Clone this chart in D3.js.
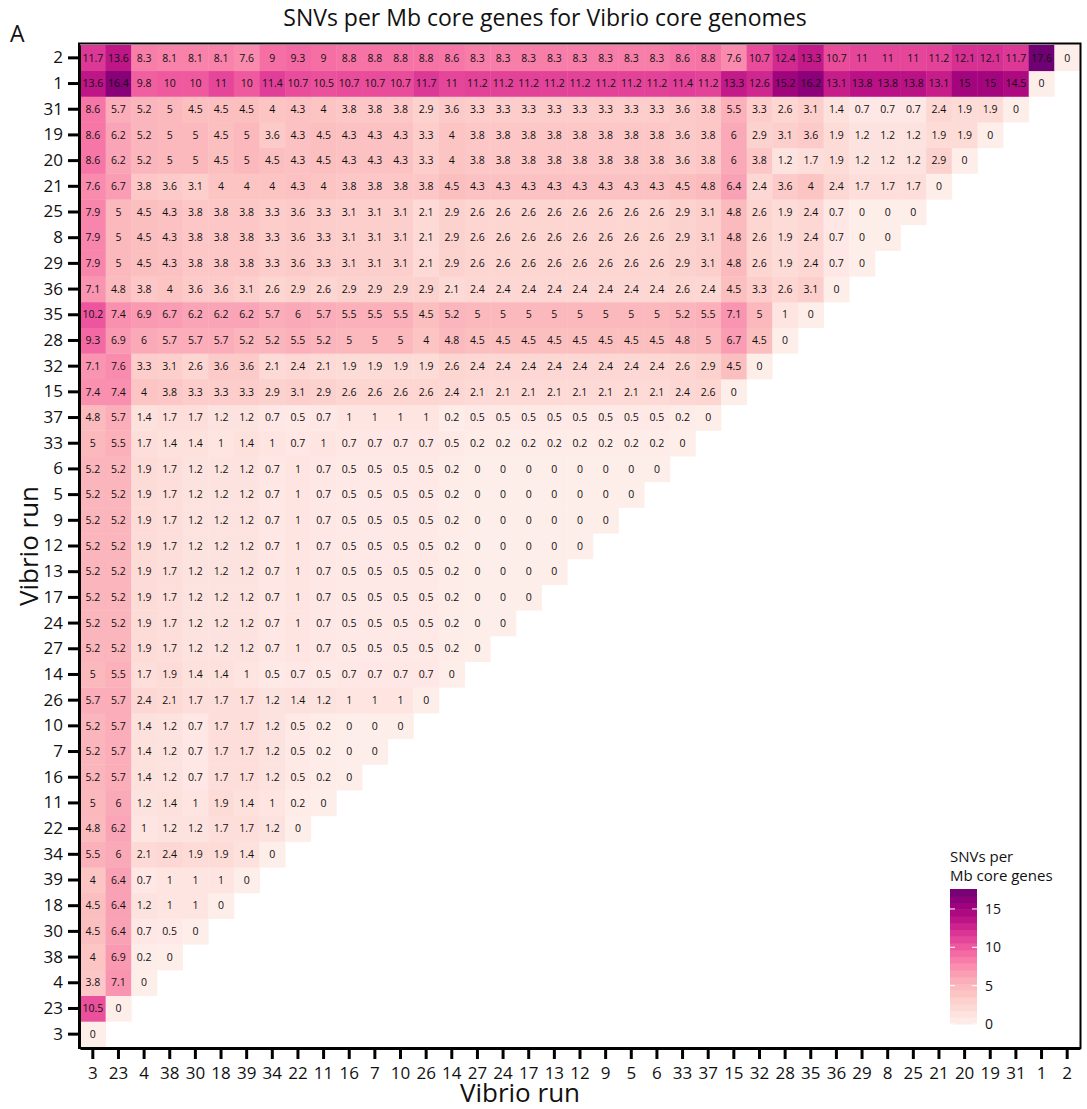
<!DOCTYPE html>
<html>
<head>
<meta charset="utf-8">
<script src="https://cdn.jsdelivr.net/npm/d3@7"></script>
<style>
  body { margin: 0; background: #fff; }
  svg { display: block; }
  text { font-family: "Open Sans", sans-serif; fill: #111; }
</style>
</head>
<body>
<div id="chart"></div>
<script>
// run order along the x axis (bottom row of the y axis is the first one)
const runs = ["3","23","4","38","30","18","39","34","22","11","16","7","10","26","14","27","24","17","13","12","9","5","6","33","37","15","32","28","35","36","29","8","25","21","20","19","31","1","2"];

// snv[k] = row for runs[k], values against runs[0..k]
const snv = [
  [0],
  [10.5, 0],
  [3.8, 7.1, 0],
  [4, 6.9, 0.2, 0],
  [4.5, 6.4, 0.7, 0.5, 0],
  [4.5, 6.4, 1.2, 1, 1, 0],
  [4, 6.4, 0.7, 1, 1, 1, 0],
  [5.5, 6, 2.1, 2.4, 1.9, 1.9, 1.4, 0],
  [4.8, 6.2, 1, 1.2, 1.2, 1.7, 1.7, 1.2, 0],
  [5, 6, 1.2, 1.4, 1, 1.9, 1.4, 1, 0.2, 0],
  [5.2, 5.7, 1.4, 1.2, 0.7, 1.7, 1.7, 1.2, 0.5, 0.2, 0],
  [5.2, 5.7, 1.4, 1.2, 0.7, 1.7, 1.7, 1.2, 0.5, 0.2, 0, 0],
  [5.2, 5.7, 1.4, 1.2, 0.7, 1.7, 1.7, 1.2, 0.5, 0.2, 0, 0, 0],
  [5.7, 5.7, 2.4, 2.1, 1.7, 1.7, 1.7, 1.2, 1.4, 1.2, 1, 1, 1, 0],
  [5, 5.5, 1.7, 1.9, 1.4, 1.4, 1, 0.5, 0.7, 0.5, 0.7, 0.7, 0.7, 0.7, 0],
  [5.2, 5.2, 1.9, 1.7, 1.2, 1.2, 1.2, 0.7, 1, 0.7, 0.5, 0.5, 0.5, 0.5, 0.2, 0],
  [5.2, 5.2, 1.9, 1.7, 1.2, 1.2, 1.2, 0.7, 1, 0.7, 0.5, 0.5, 0.5, 0.5, 0.2, 0, 0],
  [5.2, 5.2, 1.9, 1.7, 1.2, 1.2, 1.2, 0.7, 1, 0.7, 0.5, 0.5, 0.5, 0.5, 0.2, 0, 0, 0],
  [5.2, 5.2, 1.9, 1.7, 1.2, 1.2, 1.2, 0.7, 1, 0.7, 0.5, 0.5, 0.5, 0.5, 0.2, 0, 0, 0, 0],
  [5.2, 5.2, 1.9, 1.7, 1.2, 1.2, 1.2, 0.7, 1, 0.7, 0.5, 0.5, 0.5, 0.5, 0.2, 0, 0, 0, 0, 0],
  [5.2, 5.2, 1.9, 1.7, 1.2, 1.2, 1.2, 0.7, 1, 0.7, 0.5, 0.5, 0.5, 0.5, 0.2, 0, 0, 0, 0, 0, 0],
  [5.2, 5.2, 1.9, 1.7, 1.2, 1.2, 1.2, 0.7, 1, 0.7, 0.5, 0.5, 0.5, 0.5, 0.2, 0, 0, 0, 0, 0, 0, 0],
  [5.2, 5.2, 1.9, 1.7, 1.2, 1.2, 1.2, 0.7, 1, 0.7, 0.5, 0.5, 0.5, 0.5, 0.2, 0, 0, 0, 0, 0, 0, 0, 0],
  [5, 5.5, 1.7, 1.4, 1.4, 1, 1.4, 1, 0.7, 1, 0.7, 0.7, 0.7, 0.7, 0.5, 0.2, 0.2, 0.2, 0.2, 0.2, 0.2, 0.2, 0.2, 0],
  [4.8, 5.7, 1.4, 1.7, 1.7, 1.2, 1.2, 0.7, 0.5, 0.7, 1, 1, 1, 1, 0.2, 0.5, 0.5, 0.5, 0.5, 0.5, 0.5, 0.5, 0.5, 0.2, 0],
  [7.4, 7.4, 4, 3.8, 3.3, 3.3, 3.3, 2.9, 3.1, 2.9, 2.6, 2.6, 2.6, 2.6, 2.4, 2.1, 2.1, 2.1, 2.1, 2.1, 2.1, 2.1, 2.1, 2.4, 2.6, 0],
  [7.1, 7.6, 3.3, 3.1, 2.6, 3.6, 3.6, 2.1, 2.4, 2.1, 1.9, 1.9, 1.9, 1.9, 2.6, 2.4, 2.4, 2.4, 2.4, 2.4, 2.4, 2.4, 2.4, 2.6, 2.9, 4.5, 0],
  [9.3, 6.9, 6, 5.7, 5.7, 5.7, 5.2, 5.2, 5.5, 5.2, 5, 5, 5, 4, 4.8, 4.5, 4.5, 4.5, 4.5, 4.5, 4.5, 4.5, 4.5, 4.8, 5, 6.7, 4.5, 0],
  [10.2, 7.4, 6.9, 6.7, 6.2, 6.2, 6.2, 5.7, 6, 5.7, 5.5, 5.5, 5.5, 4.5, 5.2, 5, 5, 5, 5, 5, 5, 5, 5, 5.2, 5.5, 7.1, 5, 1, 0],
  [7.1, 4.8, 3.8, 4, 3.6, 3.6, 3.1, 2.6, 2.9, 2.6, 2.9, 2.9, 2.9, 2.9, 2.1, 2.4, 2.4, 2.4, 2.4, 2.4, 2.4, 2.4, 2.4, 2.6, 2.4, 4.5, 3.3, 2.6, 3.1, 0],
  [7.9, 5, 4.5, 4.3, 3.8, 3.8, 3.8, 3.3, 3.6, 3.3, 3.1, 3.1, 3.1, 2.1, 2.9, 2.6, 2.6, 2.6, 2.6, 2.6, 2.6, 2.6, 2.6, 2.9, 3.1, 4.8, 2.6, 1.9, 2.4, 0.7, 0],
  [7.9, 5, 4.5, 4.3, 3.8, 3.8, 3.8, 3.3, 3.6, 3.3, 3.1, 3.1, 3.1, 2.1, 2.9, 2.6, 2.6, 2.6, 2.6, 2.6, 2.6, 2.6, 2.6, 2.9, 3.1, 4.8, 2.6, 1.9, 2.4, 0.7, 0, 0],
  [7.9, 5, 4.5, 4.3, 3.8, 3.8, 3.8, 3.3, 3.6, 3.3, 3.1, 3.1, 3.1, 2.1, 2.9, 2.6, 2.6, 2.6, 2.6, 2.6, 2.6, 2.6, 2.6, 2.9, 3.1, 4.8, 2.6, 1.9, 2.4, 0.7, 0, 0, 0],
  [7.6, 6.7, 3.8, 3.6, 3.1, 4, 4, 4, 4.3, 4, 3.8, 3.8, 3.8, 3.8, 4.5, 4.3, 4.3, 4.3, 4.3, 4.3, 4.3, 4.3, 4.3, 4.5, 4.8, 6.4, 2.4, 3.6, 4, 2.4, 1.7, 1.7, 1.7, 0],
  [8.6, 6.2, 5.2, 5, 5, 4.5, 5, 4.5, 4.3, 4.5, 4.3, 4.3, 4.3, 3.3, 4, 3.8, 3.8, 3.8, 3.8, 3.8, 3.8, 3.8, 3.8, 3.6, 3.8, 6, 3.8, 1.2, 1.7, 1.9, 1.2, 1.2, 1.2, 2.9, 0],
  [8.6, 6.2, 5.2, 5, 5, 4.5, 5, 3.6, 4.3, 4.5, 4.3, 4.3, 4.3, 3.3, 4, 3.8, 3.8, 3.8, 3.8, 3.8, 3.8, 3.8, 3.8, 3.6, 3.8, 6, 2.9, 3.1, 3.6, 1.9, 1.2, 1.2, 1.2, 1.9, 1.9, 0],
  [8.6, 5.7, 5.2, 5, 4.5, 4.5, 4.5, 4, 4.3, 4, 3.8, 3.8, 3.8, 2.9, 3.6, 3.3, 3.3, 3.3, 3.3, 3.3, 3.3, 3.3, 3.3, 3.6, 3.8, 5.5, 3.3, 2.6, 3.1, 1.4, 0.7, 0.7, 0.7, 2.4, 1.9, 1.9, 0],
  [13.6, 16.4, 9.8, 10, 10, 11, 10, 11.4, 10.7, 10.5, 10.7, 10.7, 10.7, 11.7, 11, 11.2, 11.2, 11.2, 11.2, 11.2, 11.2, 11.2, 11.2, 11.4, 11.2, 13.3, 12.6, 15.2, 16.2, 13.1, 13.8, 13.8, 13.8, 13.1, 15, 15, 14.5, 0],
  [11.7, 13.6, 8.3, 8.1, 8.1, 8.1, 7.6, 9, 9.3, 9, 8.8, 8.8, 8.8, 8.8, 8.6, 8.3, 8.3, 8.3, 8.3, 8.3, 8.3, 8.3, 8.3, 8.6, 8.8, 7.6, 10.7, 12.4, 13.3, 10.7, 11, 11, 11, 11.2, 12.1, 12.1, 11.7, 17.6, 0]
];

const legendTicks = [0, 5, 10, 15];
const maxValue = 17.6;

const width = 1087, height = 1109;
const plotLeft = 80, plotRight = 1080, plotTop = 45, plotBottom = 1047;

const svg = d3.select("#chart").append("svg")
    .attr("width", width)
    .attr("height", height);

const x = d3.scaleBand().domain(runs).range([plotLeft, plotRight]);
const y = d3.scaleBand().domain(runs).range([plotBottom, plotTop]);

// RdPu, trimmed a little at both ends
const color = d3.scaleSequential(d3.interpolateRdPu).domain([-1.04, 19.67]);

const cells = [];
snv.forEach((row, k) => {
    row.forEach((v, j) => cells.push({ row: runs[k], col: runs[j], v: v }));
});

const cell = svg.append("g").selectAll("g")
    .data(cells)
    .enter()
    .append("g");

cell.append("rect")
    .attr("x", d => x(d.col))
    .attr("y", d => y(d.row))
    .attr("width", x.bandwidth() + 0.4)
    .attr("height", y.bandwidth() + 0.4)
    .attr("fill", d => color(d.v));

cell.append("text")
    .attr("x", d => x(d.col) + x.bandwidth() / 2)
    .attr("y", d => y(d.row) + y.bandwidth() / 2)
    .attr("dy", "0.35em")
    .attr("text-anchor", "middle")
    .style("font-size", "10.5px")
    .text(d => d.v);

// panel border
svg.append("rect")
    .attr("x", plotLeft - 1)
    .attr("y", plotTop - 1.5)
    .attr("width", plotRight - plotLeft + 1.5)
    .attr("height", plotBottom - plotTop + 2.5)
    .attr("fill", "none")
    .attr("stroke", "#000")
    .attr("stroke-width", 2);

// axes
const xAxis = svg.append("g")
    .attr("transform", `translate(0,${plotBottom + 1})`)
    .call(d3.axisBottom(x).tickSize(11).tickSizeOuter(0).tickPadding(8));

const yAxis = svg.append("g")
    .attr("transform", `translate(${plotLeft - 1},0)`)
    .call(d3.axisLeft(y).tickSize(11).tickSizeOuter(0).tickPadding(5));

[xAxis, yAxis].forEach(ax => {
    ax.select(".domain").attr("stroke", "#000").attr("stroke-width", 3);
    ax.selectAll(".tick line").attr("stroke", "#000").attr("stroke-width", 3);
    ax.selectAll(".tick text").style("font-size", "17px").attr("fill", "#111");
});

// titles
svg.append("text")
    .attr("x", 545)
    .attr("y", 26)
    .attr("text-anchor", "middle")
    .style("font-size", "23px")
    .text("SNVs per Mb core genes for Vibrio core genomes");

svg.append("text")
    .attr("x", 10)
    .attr("y", 42)
    .style("font-size", "23px")
    .text("A");

svg.append("text")
    .attr("x", 520)
    .attr("y", 1102)
    .attr("text-anchor", "middle")
    .style("font-size", "26px")
    .text("Vibrio run");

svg.append("text")
    .attr("transform", `translate(38,${(plotTop + plotBottom) / 2}) rotate(-90)`)
    .attr("text-anchor", "middle")
    .style("font-size", "26px")
    .text("Vibrio run");

// legend
const legend = svg.append("g");
const barX = 950, barW = 27;
const yL = d3.scaleLinear().domain([0, maxValue]).range([1024, 889]);

legend.append("text")
    .attr("x", barX).attr("y", 862)
    .style("font-size", "15px")
    .text("SNVs per");
legend.append("text")
    .attr("x", barX).attr("y", 881)
    .style("font-size", "15px")
    .text("Mb core genes");

const nBins = 20;
const bins = d3.range(nBins).map(i => [i * maxValue / nBins, (i + 1) * maxValue / nBins]);
legend.selectAll(".bin")
    .data(bins)
    .enter()
    .append("rect")
    .attr("class", "bin")
    .attr("x", barX)
    .attr("y", d => yL(d[1]))
    .attr("width", barW)
    .attr("height", d => yL(d[0]) - yL(d[1]) + 0.5)
    .attr("fill", d => color((d[0] + d[1]) / 2));

legendTicks.forEach(t => {
    legend.append("line")
        .attr("x1", barX).attr("x2", barX + 5)
        .attr("y1", yL(t)).attr("y2", yL(t))
        .attr("stroke", "#fff").attr("stroke-width", 1);
    legend.append("line")
        .attr("x1", barX + barW - 5).attr("x2", barX + barW)
        .attr("y1", yL(t)).attr("y2", yL(t))
        .attr("stroke", "#fff").attr("stroke-width", 1);
    legend.append("text")
        .attr("x", barX + barW + 8)
        .attr("y", yL(t))
        .attr("dy", "0.35em")
        .style("font-size", "14px")
        .text(t);
});
</script>
</body>
</html>
